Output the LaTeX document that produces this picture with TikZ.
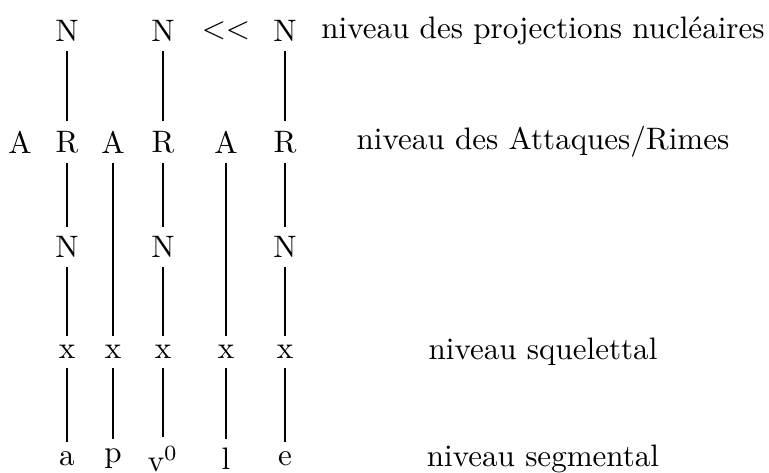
\documentclass[tikz,border=0pt]{standalone}
\begin{document}
\begin{tikzpicture}[x=0.322pt,y=-0.322pt,
  lbl/.style={inner sep=2.9pt},
  lvl/.style={inner sep=0pt},
  link/.style={draw=black,line width=0.4pt}]
\useasboundingbox (0,0) rectangle (769,473);
% top row
\node[lbl] (n1) at (67,31) {N};
\node[lbl] (n3) at (163,31) {N};
\node[lbl] (lt) at (226,31) {$<<$};
\node[lbl] (n5) at (285,31) {N};
% onset/rhyme row
\node[lbl] (a1) at (20,142) {A};
\node[lbl] (r1) at (67,142) {R};
\node[lbl] (a2) at (113,142) {A};
\node[lbl] (r3) at (163,142) {R};
\node[lbl] (a3) at (226,142) {A};
\node[lbl] (r5) at (285,142) {R};
% nucleus row
\node[lbl] (m1) at (67,247) {N};
\node[lbl] (m3) at (163,247) {N};
\node[lbl] (m5) at (285,247) {N};
% skeletal row
\node[lbl] (x1) at (67,352) {x};
\node[lbl] (x2) at (113,352) {x};
\node[lbl] (x3) at (163,352) {x};
\node[lbl] (x4) at (226,352) {x};
\node[lbl] (x5) at (285,352) {x};
% segmental row
\node[lbl] (s1) at (67,459) {a};
\node[lbl] (s2) at (113,459) {p};
\node[lbl] (s3) at (163,459) {v$^0$};
\node[lbl] (s4) at (226,459) {l};
\node[lbl] (s5) at (285,459) {e};
% level labels
\node[lvl] (l1) at (543,31) {niveau des projections nucléaires};
\node[lvl] (l2) at (543,142) {niveau des Attaques/Rimes};
\node[lvl] (l3) at (543,352) {niveau squelettal};
\node[lvl] (l4) at (543,459) {niveau segmental};
% connectors
\draw[link] (n1) -- (r1);
\draw[link] (r1) -- (m1);
\draw[link] (m1) -- (x1);
\draw[link] (x1) -- (s1);
\draw[link] (a2) -- (x2);
\draw[link] (x2) -- (s2);
\draw[link] (n3) -- (r3);
\draw[link] (r3) -- (m3);
\draw[link] (m3) -- (x3);
\draw[link] (x3) -- (s3);
\draw[link] (a3) -- (x4);
\draw[link] (x4) -- (s4);
\draw[link] (n5) -- (r5);
\draw[link] (r5) -- (m5);
\draw[link] (m5) -- (x5);
\draw[link] (x5) -- (s5);
\end{tikzpicture}
\end{document}
